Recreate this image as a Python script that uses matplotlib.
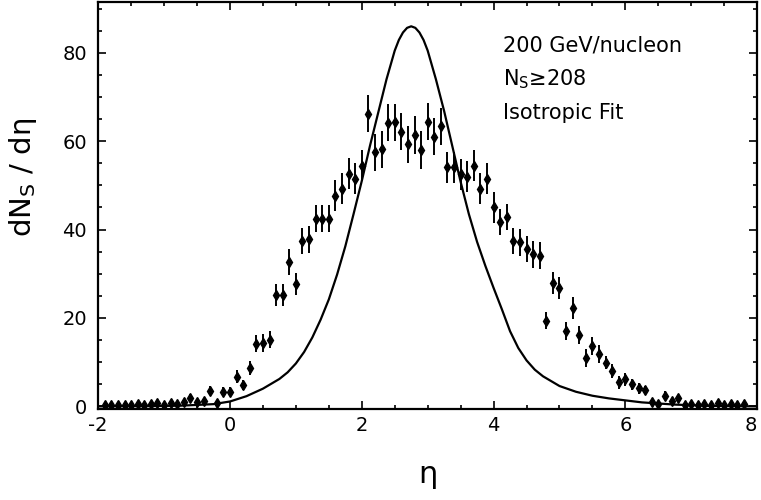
import matplotlib.pyplot as plt
from matplotlib.ticker import MultipleLocator

plt.rcParams["axes.unicode_minus"] = False

# measured dN_s/d(eta), 0.1 wide bins
eta = [-1.9, -1.8, -1.7, -1.6, -1.5, -1.4, -1.3, -1.2, -1.1, -1.0,
       -0.9, -0.8, -0.7, -0.6, -0.5, -0.4, -0.3, -0.2, -0.1, 0.0,
       0.1, 0.2, 0.3, 0.4, 0.5, 0.6, 0.7, 0.8, 0.9, 1.0,
       1.1, 1.2, 1.3, 1.4, 1.5, 1.6, 1.7, 1.8, 1.9, 2.0,
       2.1, 2.2, 2.3, 2.4, 2.5, 2.6, 2.7, 2.8, 2.9, 3.0,
       3.1, 3.2, 3.3, 3.4, 3.5, 3.6, 3.7, 3.8, 3.9, 4.0,
       4.1, 4.2, 4.3, 4.4, 4.5, 4.6, 4.7, 4.8, 4.9, 5.0,
       5.1, 5.2, 5.3, 5.4, 5.5, 5.6, 5.7, 5.8, 5.9, 6.0,
       6.1, 6.2, 6.3, 6.4, 6.5, 6.6, 6.7, 6.8, 6.9, 7.0,
       7.1, 7.2, 7.3, 7.4, 7.5, 7.6, 7.7, 7.8]
dn = [0.3, 0.2, 0.4, 0.3, 0.2, 0.5, 0.4, 0.6, 0.7, 0.4,
      0.8, 0.6, 1.0, 1.9, 1.0, 1.2, 3.5, 0.7, 3.3, 3.3,
      6.7, 4.8, 8.7, 14.2, 14.3, 15.1, 25.2, 25.2, 32.7, 27.7,
      37.4, 37.8, 42.5, 42.5, 42.5, 47.7, 49.2, 52.6, 51.5, 54.5,
      66.2, 57.5, 58.2, 64.2, 64.3, 62.1, 59.3, 61.4, 58.0, 64.4,
      61.0, 63.4, 54.1, 54.1, 52.5, 52.0, 54.4, 49.2, 51.5, 45.1,
      41.7, 42.9, 37.4, 37.1, 35.6, 34.4, 34.1, 19.4, 27.9, 26.7,
      17.0, 22.2, 16.2, 11.0, 13.6, 11.9, 9.9, 8.0, 5.4, 6.1,
      5.0, 4.1, 3.7, 0.9, 0.5, 2.4, 1.3, 1.8, 0.4, 0.6,
      0.4, 0.6, 0.4, 0.7, 0.3, 0.5, 0.3, 0.6]
err = [0, 0, 0, 0, 0, 0, 0, 0, 0, 0,
       0, 0, 0, 1.0, 0, 0, 1.0, 0, 1.0, 1.0,
       1.5, 1.2, 1.5, 2.0, 2.0, 2.0, 2.5, 2.5, 3.0, 2.5,
       3.0, 3.0, 3.0, 3.0, 3.0, 3.5, 3.5, 3.5, 3.5, 3.5,
       4.2, 4.2, 4.2, 4.2, 4.2, 4.2, 4.2, 4.2, 4.2, 4.2,
       4.2, 4.2, 3.5, 3.5, 3.5, 3.5, 3.5, 3.5, 3.5, 3.5,
       3.0, 3.0, 3.0, 3.0, 3.0, 3.0, 3.0, 2.0, 2.5, 2.5,
       2.0, 2.5, 2.0, 2.0, 2.0, 2.0, 1.5, 1.5, 1.5, 1.5,
       1.2, 1.2, 1.0, 0, 0, 1.0, 0, 0.8, 0, 0,
       0, 0, 0, 0, 0, 0, 0, 0]

# isotropic fit curve
fit_eta = [-2.0, -1.25, -0.75, -0.25, 0.0, 0.25, 0.5, 0.75, 0.875, 1.0,
           1.125, 1.25, 1.375, 1.5, 1.625, 1.75, 1.875, 2.0, 2.125, 2.25,
           2.375, 2.5, 2.5625, 2.625, 2.6875, 2.75, 2.8125, 2.875, 2.9375, 3.0,
           3.125, 3.25, 3.375, 3.5, 3.625, 3.75, 3.875, 4.0, 4.125, 4.25,
           4.375, 4.5, 4.625, 4.75, 5.0, 5.25, 5.5, 5.75, 6.25, 6.75,
           7.25, 8.0]
fit_dn = [0.0, 0.05, 0.15, 0.5, 1.1, 2.3, 4.0, 6.2, 7.7, 9.7,
          12.3, 15.6, 19.6, 24.2, 29.8, 36.2, 43.5, 51.0, 59.0, 66.5,
          74.0, 80.5, 82.9, 84.6, 85.65, 86.0, 85.65, 84.6, 82.9, 80.5,
          74.0, 66.8, 58.8, 50.8, 43.5, 37.2, 31.8, 26.8, 22.0, 17.0,
          13.2, 10.4, 8.3, 6.8, 4.6, 3.3, 2.4, 1.8, 0.9, 0.4,
          0.1, 0.0]

x_ticks = [-2, 0, 2, 4, 6, 8]
label_lines = ["200 GeV/nucleon", "N$_\\mathrm{S}$\u2265208", "Isotropic Fit"]

fig = plt.figure(figsize=(7.61, 5.0), dpi=100)
ax = fig.add_axes([0.129, 0.182, 0.866, 0.814])

ax.plot(fit_eta, fit_dn, color="black", linewidth=1.6)
ax.errorbar(eta, dn, yerr=err, fmt="d", color="black", markersize=5,
            elinewidth=1.4, capsize=0)

ax.set_xlim(-2, 8)
ax.set_ylim(-0.6, 91.5)
ax.set_xticks(x_ticks)
ax.xaxis.set_minor_locator(MultipleLocator(0.5))
ax.yaxis.set_major_locator(MultipleLocator(20))
ax.yaxis.set_minor_locator(MultipleLocator(5))
ax.tick_params(which="both", direction="in", top=True, right=True, width=1.2)
ax.tick_params(which="major", length=6, labelsize=14)
ax.tick_params(axis="x", which="major", pad=5)
ax.tick_params(axis="y", which="major", pad=8)
ax.tick_params(which="minor", length=3)
for s in ax.spines.values():
    s.set_linewidth(1.6)

# "8" sits on the right edge of the figure; keep it inside
ax.get_xticklabels()[-1].set_horizontalalignment("right")

ax.set_xlabel("\u03b7", fontsize=22, labelpad=18)
ax.set_ylabel("dN$_\\mathrm{S}$ / d\u03b7", fontsize=21)
ax.yaxis.set_label_coords(-0.09, 0.57)

for i, line in enumerate(label_lines):
    ax.text(0.615, 0.894 - i * 0.0835, line, transform=ax.transAxes,
            fontsize=15, va="center", ha="left")

fig.savefig("out.png", dpi=100)
